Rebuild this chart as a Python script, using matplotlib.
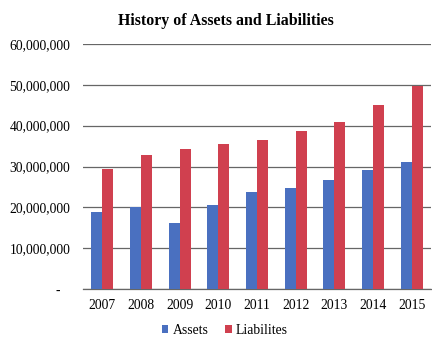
import matplotlib
matplotlib.use('Agg')
import matplotlib.pyplot as plt
import numpy as np

# ========== data ==========
years = ['2007', '2008', '2009', '2010', '2011', '2012', '2013', '2014', '2015']
assets = [18.9e6, 20.0e6, 16.2e6, 20.6e6, 23.7e6, 24.7e6, 26.7e6, 29.2e6, 31.1e6]
liabilities = [29.4e6, 32.8e6, 34.3e6, 35.5e6, 36.6e6, 38.7e6, 40.9e6, 45.0e6, 49.8e6]
y_ticks = [0, 10e6, 20e6, 30e6, 40e6, 50e6, 60e6]

plt.rcParams['font.family'] = ['Liberation Serif', 'DejaVu Serif']

fig = plt.figure(figsize=(4.32, 3.37), dpi=100)
ax = fig.add_axes([0.192, 0.1424, 0.806, 0.727])

x = np.arange(len(years))
w = 0.285
ax.bar(x - w / 2, assets, width=w, color='#4a70c0', label='Assets', zorder=3)
ax.bar(x + w / 2, liabilities, width=w, color='#d0404f', label='Liabilites', zorder=3)

ax.set_xlim(-0.5, len(years) - 0.5)
ax.set_ylim(0, 60e6)
ax.set_yticks(y_ticks)
ax.set_yticklabels(['-   '] + [f'{v:,.0f}' for v in y_ticks[1:]], fontsize=9.8)
ax.set_xticks(x)
ax.set_xticklabels(years, fontsize=9.8)
ax.tick_params(axis='both', length=0)
ax.tick_params(axis='y', pad=9)
ax.tick_params(axis='x', pad=7)

ax.grid(axis='y', color='#666666', linewidth=0.9, zorder=0)
for s in ['top', 'right', 'left']:
    ax.spines[s].set_visible(False)
ax.spines['bottom'].set_color('#666666')
ax.spines['bottom'].set_linewidth(0.9)

fig.text(0.523, 0.938, 'History of Assets and Liabilities', ha='center', va='center',
         fontsize=11.4, fontweight='bold')

fig.legend(loc='center', bbox_to_anchor=(0.52, 0.02), ncol=2, frameon=False,
           fontsize=9.8, handlelength=0.5, handleheight=0.5, handletextpad=0.3,
           columnspacing=1.2, borderpad=0)

fig.savefig('out.png', dpi=100)
